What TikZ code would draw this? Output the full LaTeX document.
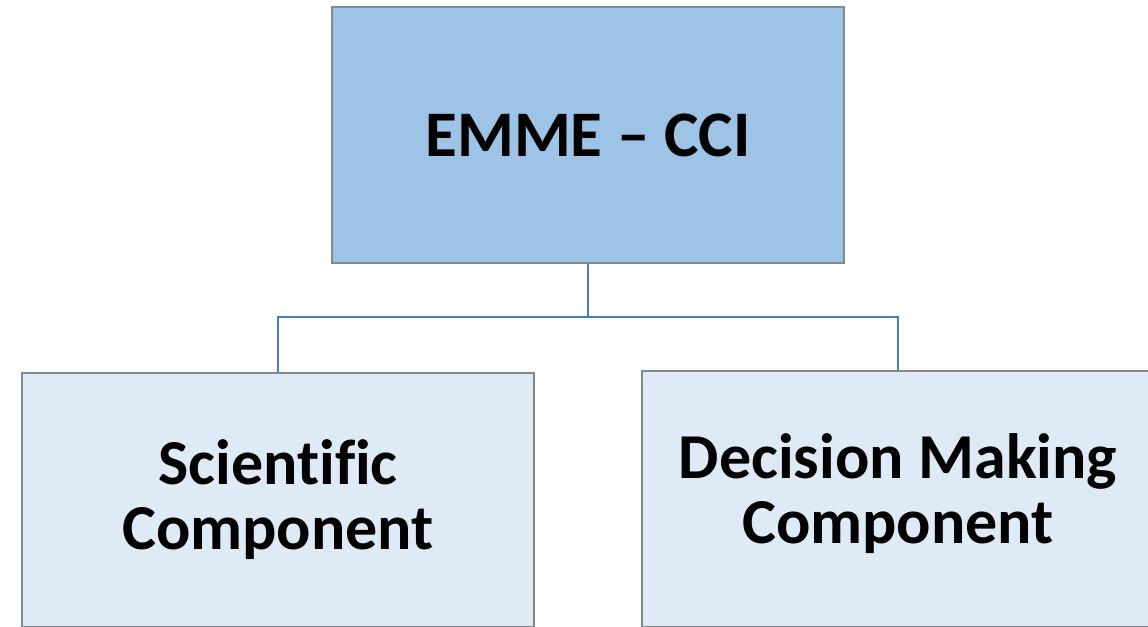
\documentclass[tikz,border=0pt]{standalone}
\usepackage{fontspec}
\setmainfont{Carlito}[Ligatures=NoCommon]
\usepackage{tikz}
\usetikzlibrary{calc,positioning}
\definecolor{topfill}{HTML}{9DC3E6}
\definecolor{subfill}{HTML}{DEEBF7}
\definecolor{boxline}{HTML}{808890}
\definecolor{linkline}{HTML}{4A7EBB}
\tikzset{
    topbox/.style={draw=boxline, line width=0.6pt, fill=topfill, minimum width=256pt, minimum height=128pt, inner sep=0pt, align=center, font=\fontsize{32.5}{36}\selectfont\bfseries},
    subbox/.style={draw=boxline, line width=0.6pt, fill=subfill, minimum width=256pt, minimum height=127pt, inner sep=0pt, align=center, font=\fontsize{32}{32.5}\selectfont\bfseries},
    link/.style={draw=linkline, line width=1.4pt}
}

\begin{document}
\begin{tikzpicture}[x=0.5pt,y=-0.5pt]
			\useasboundingbox (0,0) rectangle (1148,627);
			\clip (0,0) rectangle (1148,627);
			\node[topbox] (emme) at (588,135) {EMME -- CCI};
			\node[subbox] (sci) at (278,500) {Scientific\\Component};
			\node[subbox, minimum height=128pt, text depth=10pt] (dec) at (898,499) {Decision Making\\Component};
			\coordinate (split) at (588,317);

			\draw[link] (emme.south) -- (split) -| (sci.north);
			\draw[link] (split) -| (dec.north);
		\end{tikzpicture}
\end{document}
